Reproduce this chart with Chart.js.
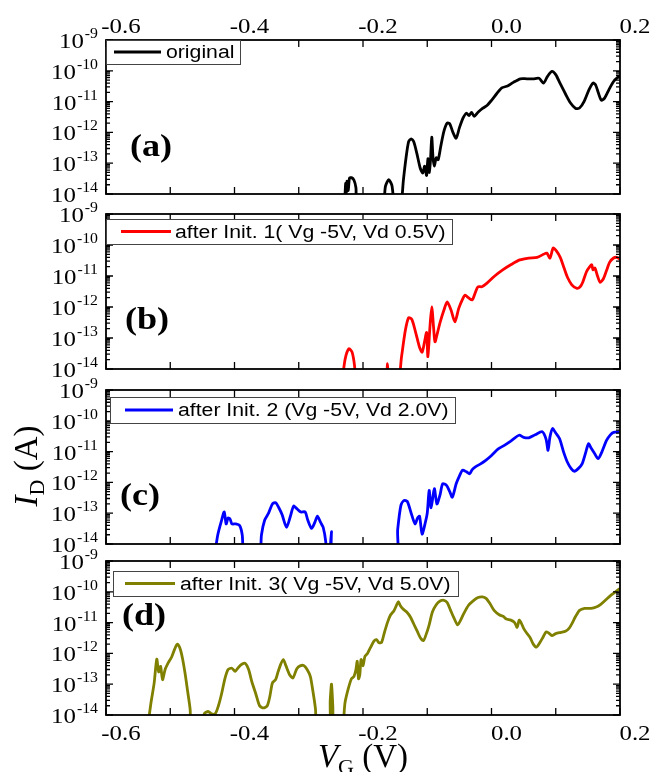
<!DOCTYPE html>
<html>
<head>
<meta charset="utf-8">
<script src="https://cdn.jsdelivr.net/npm/chart.js@4.4.1/dist/chart.umd.min.js"></script>
<style>
  body { margin: 0; background: #fff; }
  #wrap { position: relative; width: 654px; height: 772px; }
  #wrap canvas { position: absolute; left: 0; top: 0; }
</style>
</head>
<body>
<div id="wrap">
  <canvas id="panelA" width="654" height="772"></canvas>
  <canvas id="panelB" width="654" height="772"></canvas>
  <canvas id="panelC" width="654" height="772"></canvas>
  <canvas id="panelD" width="654" height="772"></canvas>
</div>
<script>
// Axis ticks and labels
const xTickValues = [-0.6, -0.4, -0.2, 0.0, 0.2]
const xTickLabels = ["-0.6", "-0.4", "-0.2", "0.0", "0.2"]
const xMinorTicks = [-0.5, -0.3, -0.1, 0.1]
const yTickExponents = [-9, -10, -11, -12, -13, -14]
const panelLabels = ["(a)", "(b)", "(c)", "(d)"]
const seriesLabels = [
  "original",
  "after Init. 1( Vg -5V, Vd 0.5V)",
  "after Init. 2 (Vg -5V, Vd 2.0V)",
  "after Init. 3( Vg -5V, Vd 5.0V)",
]

// [VG (V), ID (A)]; 3e-15 = below the axis floor
const curveOriginal = [
  [-0.229, 3e-15], [-0.227, 2.2e-14], [-0.226, 1.1e-14], [-0.225, 2.6e-14], [-0.223, 1.3e-14],
  [-0.221, 3.3e-14], [-0.218, 3.4e-14], [-0.214, 2.8e-14], [-0.211, 1.6e-14], [-0.208, 3e-15],
  [-0.171, 3e-15], [-0.165, 1.8e-14], [-0.16, 2.9e-14], [-0.155, 1.9e-14], [-0.15, 3e-15],
  [-0.142, 3e-15], [-0.137, 3e-14], [-0.133, 1.5e-13], [-0.129, 5e-13], [-0.125, 6.2e-13],
  [-0.121, 5e-13], [-0.116, 2e-13], [-0.111, 7e-14], [-0.107, 4.8e-14], [-0.104, 8e-14],
  [-0.101, 4e-14], [-0.099, 1.4e-13], [-0.097, 5e-14], [-0.095, 1.2e-13], [-0.093, 7e-13],
  [-0.091, 1.5e-13], [-0.089, 8e-14], [-0.086, 1.5e-13], [-0.083, 1.3e-13], [-0.079, 3.5e-13],
  [-0.074, 1.1e-12], [-0.069, 2e-12], [-0.065, 1.9e-12], [-0.06, 1e-12], [-0.055, 6.5e-13],
  [-0.05, 1.4e-12], [-0.044, 3e-12], [-0.039, 4.2e-12], [-0.035, 3.5e-12], [-0.031, 4.5e-12],
  [-0.027, 3.3e-12], [-0.021, 4.5e-12], [-0.014, 6e-12], [-0.007, 7.5e-12], [0.0, 1.1e-11],
  [0.008, 1.8e-11], [0.016, 2.8e-11], [0.025, 3.2e-11], [0.034, 4.2e-11], [0.045, 5.5e-11],
  [0.055, 5.5e-11], [0.065, 5.5e-11], [0.074, 5.7e-11], [0.081, 4e-11], [0.087, 6.5e-11],
  [0.094, 9.5e-11], [0.1, 7.5e-11], [0.107, 3.8e-11], [0.115, 1.8e-11], [0.123, 9e-12],
  [0.131, 6e-12], [0.137, 6.2e-12], [0.144, 1e-11], [0.152, 2.5e-11], [0.158, 4e-11],
  [0.162, 3.5e-11], [0.166, 2e-11], [0.171, 1.1e-11], [0.176, 1.3e-11], [0.183, 2.5e-11],
  [0.19, 4.5e-11], [0.196, 6e-11], [0.2, 6.5e-11],
]

const curveInit1 = [
  [-0.233, 3e-15], [-0.228, 2e-14], [-0.222, 4.5e-14], [-0.217, 3.5e-14], [-0.213, 1.2e-14],
  [-0.211, 3e-15], [-0.166, 3e-15], [-0.162, 1.5e-14], [-0.159, 3e-15], [-0.146, 3e-15],
  [-0.14, 2.5e-14], [-0.134, 1.8e-13], [-0.129, 4.5e-13], [-0.124, 4e-13], [-0.118, 1.5e-13],
  [-0.112, 5e-14], [-0.108, 3.5e-14], [-0.104, 8e-14], [-0.101, 1.5e-13], [-0.099, 2.5e-14],
  [-0.096, 2e-13], [-0.093, 1e-12], [-0.09, 2e-13], [-0.088, 7.5e-14], [-0.084, 1.5e-13],
  [-0.08, 3.2e-13], [-0.074, 8e-13], [-0.069, 1.45e-12], [-0.063, 8e-13], [-0.057, 3.3e-13],
  [-0.051, 9e-13], [-0.045, 1.8e-12], [-0.041, 2.4e-12], [-0.036, 2e-12], [-0.03, 1.7e-12],
  [-0.025, 3e-12], [-0.021, 4.5e-12], [-0.015, 4.5e-12], [-0.007, 5.9e-12], [0.005, 1e-11],
  [0.018, 1.6e-11], [0.03, 2.3e-11], [0.044, 3.3e-11], [0.058, 3.8e-11], [0.071, 4e-11],
  [0.081, 5e-11], [0.086, 5.5e-11], [0.091, 3.8e-11], [0.096, 8e-11], [0.101, 6.5e-11],
  [0.107, 4e-11], [0.113, 1.8e-11], [0.118, 9.3e-12], [0.125, 5.2e-12], [0.133, 4e-12],
  [0.138, 4.5e-12], [0.142, 6.3e-12], [0.148, 1.4e-11], [0.153, 2e-11], [0.156, 2.3e-11],
  [0.158, 1.6e-11], [0.161, 1.8e-11], [0.165, 1e-11], [0.169, 6.3e-12], [0.174, 8e-12],
  [0.179, 1.5e-11], [0.184, 2.8e-11], [0.19, 3.8e-11], [0.195, 4e-11], [0.2, 3.5e-11],
]

const curveInit2 = [
  [-0.432, 3e-15], [-0.426, 2e-14], [-0.42, 6e-14], [-0.416, 1.1e-13], [-0.413, 4.5e-14],
  [-0.41, 7e-14], [-0.407, 6.5e-14], [-0.404, 4.5e-14], [-0.398, 4.5e-14], [-0.392, 4e-14],
  [-0.388, 2e-14], [-0.384, 3e-15], [-0.362, 3e-15], [-0.358, 2e-14], [-0.353, 6e-14],
  [-0.347, 1e-13], [-0.341, 2e-13], [-0.336, 2.2e-13], [-0.331, 1.5e-13], [-0.326, 9e-14],
  [-0.319, 3.5e-14], [-0.313, 8e-14], [-0.308, 1.7e-13], [-0.303, 1.4e-13], [-0.297, 1.1e-13],
  [-0.29, 1.1e-13], [-0.286, 6e-14], [-0.28, 3.2e-14], [-0.275, 5e-14], [-0.271, 8e-14],
  [-0.266, 5e-14], [-0.262, 3.5e-14], [-0.258, 1.2e-14], [-0.256, 3e-15], [-0.251, 3e-15],
  [-0.249, 2.5e-14], [-0.247, 3e-15], [-0.15, 3e-15], [-0.146, 3e-14], [-0.141, 1.8e-13],
  [-0.136, 2.6e-13], [-0.131, 2.4e-13], [-0.125, 1e-13], [-0.119, 4.5e-14], [-0.115, 7e-14],
  [-0.112, 8e-14], [-0.108, 2.1e-14], [-0.103, 5e-14], [-0.1, 1e-13], [-0.097, 5.5e-13],
  [-0.094, 1.5e-13], [-0.089, 6.3e-13], [-0.085, 2e-13], [-0.08, 4e-13], [-0.076, 9e-13],
  [-0.07, 8e-13], [-0.065, 5e-13], [-0.061, 3.3e-13], [-0.055, 9e-13], [-0.05, 1.6e-12],
  [-0.045, 2.5e-12], [-0.039, 2.2e-12], [-0.034, 1.9e-12], [-0.03, 2.6e-12], [-0.025, 3.2e-12],
  [-0.017, 4e-12], [-0.009, 5.2e-12], [0.0, 7.5e-12], [0.01, 1.2e-11], [0.02, 1.6e-11],
  [0.03, 2.2e-11], [0.043, 3.4e-11], [0.05, 2.9e-11], [0.058, 2.8e-11], [0.068, 3.5e-11],
  [0.079, 4.4e-11], [0.085, 2.5e-11], [0.088, 1.1e-11], [0.091, 3e-11], [0.095, 5.6e-11],
  [0.1, 4e-11], [0.106, 2.6e-11], [0.112, 1e-11], [0.118, 4.6e-12], [0.124, 2.8e-12],
  [0.129, 2.3e-12], [0.135, 2.8e-12], [0.141, 4e-12], [0.147, 1e-11], [0.151, 1.8e-11],
  [0.155, 1.3e-11], [0.16, 9e-12], [0.166, 5.9e-12], [0.172, 1e-11], [0.179, 2.3e-11],
  [0.185, 3.5e-11], [0.19, 4.2e-11], [0.2, 4.4e-11],
]

const curveInit3 = [
  [-0.536, 3e-15], [-0.53, 2.5e-14], [-0.525, 1.1e-13], [-0.521, 6.5e-13], [-0.518, 2.5e-13],
  [-0.515, 3.8e-13], [-0.512, 1.4e-13], [-0.508, 3e-13], [-0.503, 5e-13], [-0.498, 7.5e-13],
  [-0.493, 1.4e-12], [-0.489, 2e-12], [-0.485, 1.5e-12], [-0.481, 7e-13], [-0.477, 2.3e-13],
  [-0.473, 6e-14], [-0.469, 1.5e-14], [-0.467, 3e-15], [-0.452, 3e-15], [-0.447, 1.1e-14],
  [-0.441, 1.3e-14], [-0.436, 1.1e-14], [-0.43, 1.1e-14], [-0.425, 2e-14], [-0.42, 5e-14],
  [-0.415, 1.5e-13], [-0.41, 3e-13], [-0.404, 3.3e-13], [-0.399, 2.6e-13], [-0.394, 3.5e-13],
  [-0.388, 4.5e-13], [-0.383, 4.7e-13], [-0.378, 3e-13], [-0.373, 1.2e-13], [-0.367, 5e-14],
  [-0.361, 2e-14], [-0.355, 1.7e-14], [-0.349, 2e-14], [-0.345, 4e-14], [-0.341, 1.1e-13],
  [-0.336, 1.4e-13], [-0.332, 2.6e-13], [-0.328, 4.5e-13], [-0.324, 6.3e-13], [-0.32, 4e-13],
  [-0.314, 2e-13], [-0.309, 1.6e-13], [-0.303, 3.2e-13], [-0.297, 4e-13], [-0.292, 4e-13],
  [-0.287, 3e-13], [-0.282, 1.8e-13], [-0.278, 6e-14], [-0.274, 1.6e-14], [-0.271, 3e-15],
  [-0.253, 3e-15], [-0.251, 3e-14], [-0.249, 1e-13], [-0.247, 2e-14], [-0.245, 3e-15],
  [-0.233, 3e-15], [-0.228, 2.5e-14], [-0.223, 7e-14], [-0.218, 1.5e-13], [-0.214, 1.8e-13],
  [-0.211, 3e-13], [-0.209, 5.5e-13], [-0.207, 1.5e-13], [-0.205, 2e-13], [-0.203, 6.3e-13],
  [-0.2, 4e-13], [-0.197, 8e-13], [-0.193, 1e-12], [-0.188, 1.6e-12], [-0.183, 2.5e-12],
  [-0.179, 2.8e-12], [-0.175, 2.2e-12], [-0.171, 2.3e-12], [-0.167, 4.5e-12], [-0.162, 1e-11],
  [-0.157, 1.8e-11], [-0.152, 2.4e-11], [-0.148, 3.6e-11], [-0.145, 4.8e-11], [-0.142, 3.6e-11],
  [-0.138, 2.8e-11], [-0.132, 2.2e-11], [-0.126, 1.5e-11], [-0.121, 9e-12], [-0.116, 5.5e-12],
  [-0.111, 3.3e-12], [-0.106, 2.6e-12], [-0.102, 4e-12], [-0.097, 8.5e-12], [-0.092, 2.2e-11],
  [-0.086, 3.8e-11], [-0.08, 5e-11], [-0.074, 5.3e-11], [-0.069, 4.5e-11], [-0.064, 2.6e-11],
  [-0.059, 1.5e-11], [-0.053, 8.5e-12], [-0.049, 1.1e-11], [-0.043, 2e-11], [-0.036, 3.6e-11],
  [-0.029, 5e-11], [-0.021, 6.5e-11], [-0.014, 6.8e-11], [-0.008, 6e-11], [-0.002, 4e-11],
  [0.004, 2.5e-11], [0.012, 1.8e-11], [0.018, 1.6e-11], [0.023, 1.3e-11], [0.03, 1.2e-11],
  [0.036, 1e-11], [0.04, 7e-12], [0.043, 1.2e-11], [0.046, 1e-11], [0.05, 6.5e-12],
  [0.055, 4.5e-12], [0.06, 3.3e-12], [0.065, 2e-12], [0.07, 1.6e-12], [0.075, 2.2e-12],
  [0.08, 3.3e-12], [0.085, 5e-12], [0.089, 4.6e-12], [0.094, 3.8e-12], [0.1, 4.4e-12],
  [0.108, 4.8e-12], [0.115, 5.2e-12], [0.121, 6.6e-12], [0.126, 1e-11], [0.131, 1.6e-11],
  [0.137, 2.5e-11], [0.145, 2.9e-11], [0.155, 2.9e-11], [0.163, 3.2e-11], [0.17, 3.9e-11],
  [0.178, 5.5e-11], [0.186, 7.8e-11], [0.193, 1e-10], [0.2, 1.3e-10],
]

// Layout of the four stacked panels (page pixels)
const panels = [
  { id: "panelA", curve: curveOriginal, color: "#000000", top: 40, bottom: 194,
    legend: { dx: 0, dy: 0, w: 134, h: 24, line: [8, 55], text: 60 }, tag: [151, 148] },
  { id: "panelB", curve: curveInit1, color: "#ff0000", top: 214, bottom: 369,
    legend: { dx: 0, dy: 5, w: 346, h: 25, line: [15, 65], text: 69 }, tag: [147, 321] },
  { id: "panelC", curve: curveInit2, color: "#0000ff", top: 390, bottom: 544,
    legend: { dx: 4, dy: 7, w: 345, h: 26, line: [15, 63], text: 68 }, tag: [140, 497] },
  { id: "panelD", curve: curveInit3, color: "#808000", top: 561, bottom: 715,
    legend: { dx: 7, dy: 10, w: 345, h: 25, line: [12, 62], text: 67 }, tag: [144, 617] },
]

const SERIF = "'Liberation Serif', 'Times New Roman', serif"
const SANS = "'Liberation Sans', Arial, sans-serif"
const STRETCH = 1.13

function wideText(ctx, str, x, y, font, align) {
  ctx.save()
  ctx.font = font
  ctx.textAlign = align
  ctx.translate(x, y)
  ctx.scale(STRETCH, 1)
  ctx.fillText(str, 0, 0)
  ctx.restore()
}

function textWidth(ctx, str, font) {
  ctx.save()
  ctx.font = font
  const w = ctx.measureText(str).width * STRETCH
  ctx.restore()
  return w
}

// draw a run of [text, font, baselineShift] pieces starting at x
function drawRun(ctx, parts, x, y) {
  let cx = x
  parts.forEach((p) => {
    ctx.font = p[1]
    ctx.textAlign = "left"
    ctx.fillText(p[0], cx, y + p[2])
    cx += ctx.measureText(p[0]).width
  })
}

function runWidth(ctx, parts) {
  let total = 0
  parts.forEach((p) => {
    ctx.font = p[1]
    total += ctx.measureText(p[0]).width
  })
  return total
}

const panelDecor = {
  id: "panelDecor",
  afterDraw(chart, args, opts) {
    const { ctx, chartArea: ca } = chart
    const x = chart.scales.x
    const y = chart.scales.y
    const idx = opts.index
    ctx.save()
    ctx.fillStyle = "#000"
    ctx.strokeStyle = "#000"

    // frame
    ctx.lineWidth = 1.8
    ctx.strokeRect(ca.left, ca.top, ca.right - ca.left, ca.bottom - ca.top)

    // inward ticks
    ctx.lineWidth = 1.3
    ctx.beginPath()
    xTickValues.concat(xMinorTicks).forEach((v) => {
      const px = x.getPixelForValue(v)
      ctx.moveTo(px, ca.bottom)
      ctx.lineTo(px, ca.bottom - 7)
      ctx.moveTo(px, ca.top)
      ctx.lineTo(px, ca.top + 7)
    })
    yTickExponents.forEach((e) => {
      for (let m = 1; m <= 9; m++) {
        const v = m * Math.pow(10, e)
        if (v > 1.001e-9) continue
        const py = y.getPixelForValue(v)
        const len = m === 1 ? 7 : 4
        ctx.moveTo(ca.left, py)
        ctx.lineTo(ca.left + len, py)
        ctx.moveTo(ca.right, py)
        ctx.lineTo(ca.right - len, py)
      }
    })
    ctx.stroke()

    // y tick labels 10^n
    ctx.textBaseline = "alphabetic"
    yTickExponents.forEach((e) => {
      const py = y.getPixelForValue(Math.pow(10, e))
      const sup = String(e)
      const supFont = "14px " + SERIF
      const baseFont = "22px " + SERIF
      const right = ca.left - 8
      wideText(ctx, sup, right, py - 2, supFont, "right")
      wideText(ctx, "10", right - textWidth(ctx, sup, supFont) - 1, py + 8, baseFont, "right")
    })

    // x tick labels (top on first panel, bottom on last)
    const xFont = "22px " + SERIF
    if (idx === 0) {
      xTickValues.forEach((v, i) => wideText(ctx, xTickLabels[i], x.getPixelForValue(v) + 15, ca.top - 7, xFont, "center"))
    }
    if (idx === 3) {
      xTickValues.forEach((v, i) => wideText(ctx, xTickLabels[i], x.getPixelForValue(v) + 15, ca.bottom + 25, xFont, "center"))
      const parts = [["V", "italic 33px " + SERIF, 0], ["G", "22px " + SERIF, 7], [" (V)", "33px " + SERIF, 0]]
      drawRun(ctx, parts, 363 - runWidth(ctx, parts) / 2, 767)
    }
    if (idx === 2) {
      // I_D (A), rotated
      ctx.save()
      ctx.translate(37, 466)
      ctx.rotate(-Math.PI / 2)
      const parts = [["I", "italic 33px " + SERIF, 0], ["D", "22px " + SERIF, 7], [" (A)", "33px " + SERIF, 0]]
      drawRun(ctx, parts, -runWidth(ctx, parts) / 2, 0)
      ctx.restore()
    }

    // panel tag (a)...(d)
    ctx.textBaseline = "middle"
    wideText(ctx, panelLabels[idx], opts.tag[0], opts.tag[1], "bold 32px " + SERIF, "center")

    // legend box
    const lg = opts.legend
    const bx = ca.left + lg.dx
    const by = ca.top + lg.dy
    ctx.fillStyle = "#fff"
    ctx.fillRect(bx, by, lg.w, lg.h)
    ctx.strokeStyle = "#444"
    ctx.lineWidth = 1
    ctx.strokeRect(bx + 0.5, by + 0.5, lg.w, lg.h)
    const ly = by + lg.h / 2
    ctx.strokeStyle = opts.color
    ctx.lineWidth = 3
    ctx.beginPath()
    ctx.moveTo(bx + lg.line[0], ly)
    ctx.lineTo(bx + lg.line[1], ly)
    ctx.stroke()
    ctx.fillStyle = "#000"
    wideText(ctx, seriesLabels[idx], bx + lg.text, ly + 1, "18.8px " + SANS, "left")

    ctx.restore()
  },
}

window.panelCharts = []

panels.forEach((p, i) => {
  const el = document.getElementById(p.id)
  const chart = new Chart(el, {
    type: "line",
    data: {
      datasets: [
        {
          label: seriesLabels[i],
          data: p.curve.map((row) => ({ x: row[0], y: row[1] })),
          borderColor: p.color,
          borderWidth: 2.8,
          pointRadius: 0,
          tension: 0.25,
          fill: false,
        },
      ],
    },
    options: {
      responsive: false,
      animation: false,
      devicePixelRatio: 1,
      events: [],
      layout: {
        padding: { left: 106, right: 34, top: p.top, bottom: 772 - p.bottom },
      },
      scales: {
        x: { type: "linear", min: -0.6, max: 0.2, display: false },
        y: { type: "logarithmic", min: 1e-14, max: 1e-9, display: false },
      },
      plugins: {
        legend: { display: false },
        tooltip: { enabled: false },
        panelDecor: { index: i, color: p.color, legend: p.legend, tag: p.tag },
      },
    },
    plugins: [panelDecor],
  })
  window.panelCharts.push(chart)
})
</script>
</body>
</html>
